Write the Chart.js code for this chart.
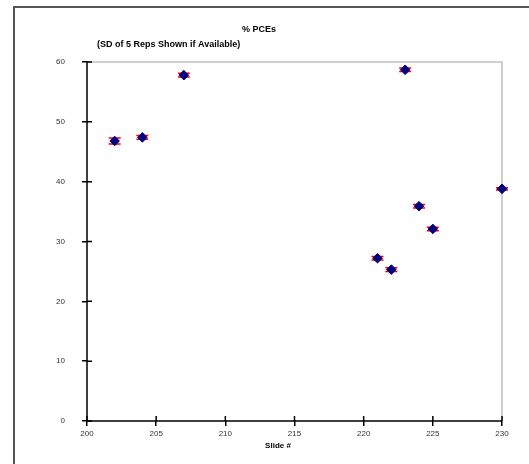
<!DOCTYPE html>
<html>
<head>
<meta charset="utf-8">
<script src="https://cdn.jsdelivr.net/npm/chart.js@4/dist/chart.umd.min.js"></script>
<style>
  html, body { margin: 0; padding: 0; background: #fff; }
  #wrap { width: 529px; height: 464px; }
</style>
</head>
<body>
<div id="wrap"><canvas id="main-chart" width="529" height="464"></canvas></div>
<script>
// slide numbers and mean % PCEs, with the SD of 5 reps
const slides = [202, 204, 207, 221, 222, 223, 224, 225, 230];
const pces   = [46.8, 47.4, 57.8, 27.2, 25.3, 58.7, 35.9, 32.1, 38.8];
const sd     = [0.5, 0.3, 0.3, 0.3, 0.3, 0.3, 0.3, 0.3, 0.2];

const titleText = '% PCEs';
const subtitleText = '(SD of 5 Reps Shown if Available)';
const xTitle = 'Slide #';

const points = slides.map((s, i) => ({ x: s, y: pces[i] }));

// red SD caps, drawn under the markers
const errorBars = {
  id: 'errorBars',
  beforeDatasetsDraw(chart) {
    const ctx = chart.ctx, xs = chart.scales.x, ys = chart.scales.y;
    ctx.save();
    ctx.strokeStyle = '#ff0000';
    ctx.lineWidth = 1.5;
    slides.forEach((s, i) => {
      const px = xs.getPixelForValue(s);
      const top = ys.getPixelForValue(pces[i] + sd[i]);
      const bot = ys.getPixelForValue(pces[i] - sd[i]);
      ctx.beginPath();
      ctx.moveTo(px, top); ctx.lineTo(px, bot);
      ctx.moveTo(px - 6, top); ctx.lineTo(px + 6, top);
      ctx.moveTo(px - 6, bot); ctx.lineTo(px + 6, bot);
      ctx.stroke();
    });
    ctx.restore();
  }
};

// frame, plot border, inner tick halves and the titles
const decor = {
  id: 'decor',
  beforeDraw(chart) {
    const ctx = chart.ctx;
    ctx.save();
    ctx.fillStyle = '#fff';
    ctx.fillRect(0, 0, chart.width, chart.height);
    ctx.strokeStyle = '#555';
    ctx.lineWidth = 2;
    ctx.beginPath();
    ctx.moveTo(14, chart.height); ctx.lineTo(14, 7); ctx.lineTo(chart.width, 7);
    ctx.stroke();
    ctx.restore();
  },
  beforeDatasetsDraw(chart) {
    const ctx = chart.ctx, a = chart.chartArea;
    const xs = chart.scales.x, ys = chart.scales.y;
    ctx.save();
    ctx.strokeStyle = '#c0c0c0';
    ctx.lineWidth = 1.5;
    ctx.beginPath();
    ctx.moveTo(a.left, a.top); ctx.lineTo(a.right, a.top); ctx.lineTo(a.right, a.bottom);
    ctx.stroke();

    ctx.strokeStyle = '#000';
    ctx.lineWidth = 1.5;
    ctx.beginPath();
    ctx.moveTo(a.left, a.top); ctx.lineTo(a.left, a.bottom); ctx.lineTo(a.right, a.bottom);
    ctx.stroke();
    ctx.beginPath();
    ys.ticks.forEach(t => {
      const py = ys.getPixelForValue(t.value);
      ctx.moveTo(a.left, py); ctx.lineTo(a.left + 5, py);
    });
    xs.ticks.forEach(t => {
      const px = xs.getPixelForValue(t.value);
      ctx.moveTo(px, a.bottom); ctx.lineTo(px, a.bottom - 5);
    });
    ctx.stroke();
    ctx.restore();
  },
  afterDraw(chart) {
    const ctx = chart.ctx;
    ctx.save();
    ctx.fillStyle = '#000';
    ctx.textBaseline = 'middle';
    ctx.font = 'bold 9px "Liberation Sans", Arial, sans-serif';
    ctx.textAlign = 'center';
    ctx.fillText(titleText, 259, 30);
    ctx.textAlign = 'left';
    ctx.fillText(subtitleText, 97, 45);
    ctx.font = 'bold 8px "Liberation Sans", Arial, sans-serif';
    ctx.textAlign = 'center';
    ctx.fillText(xTitle, 278, 446);
    ctx.restore();
  }
};

const config = {
  type: 'scatter',
  data: {
    datasets: [{
      label: '% PCEs',
      data: points,
      clip: false,
      pointStyle: 'rectRot',
      pointRadius: 4.8,
      backgroundColor: '#000080',
      borderColor: '#000080',
      borderWidth: 1
    }]
  },
  options: {
    responsive: false,
    animation: false,
    layout: { padding: { left: 0, top: 62, right: 27, bottom: 0 } },
    plugins: {
      legend: { display: false },
      tooltip: { enabled: false }
    },
    scales: {
      x: {
        type: 'linear',
        min: 200, max: 230,
        afterFit: s => { s.height = 43; },
        border: { display: false },
        grid: { drawOnChartArea: false, tickLength: 5, color: '#000', lineWidth: 1.5 },
        ticks: {
          stepSize: 5, padding: 3, maxRotation: 0,
          color: '#333',
          font: { family: '"Liberation Sans", Arial, sans-serif', size: 8 }
        }
      },
      y: {
        min: 0, max: 60,
        afterFit: s => { s.width = 87; },
        border: { display: false },
        grid: { drawOnChartArea: false, tickLength: 5, color: '#000', lineWidth: 1.5 },
        ticks: {
          stepSize: 10, padding: 17,
          color: '#333',
          font: { family: '"Liberation Sans", Arial, sans-serif', size: 8 }
        }
      }
    }
  },
  plugins: [decor, errorBars]
};

const myChart = new Chart(document.getElementById('main-chart'), config);
</script>
</body>
</html>
